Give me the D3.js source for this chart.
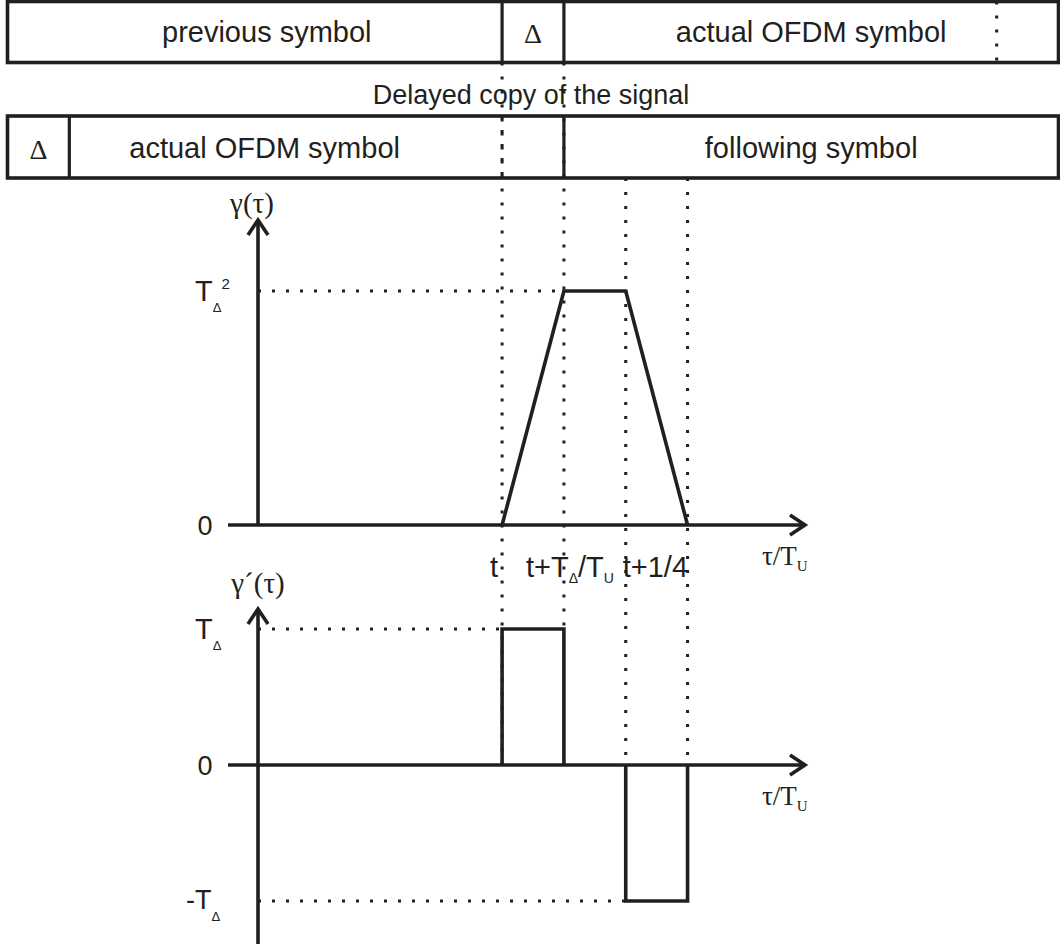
<!DOCTYPE html>
<html>
<head>
<meta charset="utf-8">
<script src="https://cdn.jsdelivr.net/npm/d3@7"></script>
<style>
  html, body { margin: 0; padding: 0; background: #fff; }
  svg { display: block; }
</style>
</head>
<body>
<svg id="chart" width="1060" height="947"></svg>
<script>
// ---- data (time axis in units of the guard interval TΔ) ----
const topRow = [
  { label: "previous symbol",    from: -8, to: 0, font: "sans" },
  { label: "Δ",                  from: 0,  to: 1, font: "serif" },
  { label: "actual OFDM symbol", from: 1,  to: 9, font: "sans" }
];
const topRowMarks = [8];

const bottomRow = [
  { label: "Δ",                  from: -8, to: -7, font: "serif" },
  { label: "actual OFDM symbol", from: -7, to: 1,  font: "sans" },
  { label: "following symbol",   from: 1,  to: 9,  font: "sans" }
];
const bottomRowMarks = [0];

// correlation γ(τ), value in units of TΔ²
const gammaPoints = [
  { t: 0, v: 0 },
  { t: 1, v: 1 },
  { t: 2, v: 1 },
  { t: 3, v: 0 }
];

// derivative γ´(τ), value in units of TΔ
const derivPulses = [
  { from: 0, to: 1, v: 1 },
  { from: 2, to: 3, v: -1 }
];

const tickLabels = ["t", "t+T|Δ|/T|U", "t+1/4"];
const tickPositions = [0, 1, 2];

// ---- layout ----
const INK = "#231f20";
const SANS = "'Liberation Sans', Arial, Helvetica, sans-serif";
const SERIF = "'Liberation Serif', 'Times New Roman', serif";

const svg = d3.select("#chart");
const x = d3.scaleLinear().domain([-8, 9]).range([7.5, 1058.5]);
const yUp = d3.scaleLinear().domain([0, 1]).range([525, 291]);
const yLo = d3.scaleLinear().domain([-1, 1]).range([901, 629]);

const AX_X = 258, AX_START = 228, AX_END = 805;

// dotted helper
function dotted(x1, y1, x2, y2) {
  svg.append("line")
    .attr("x1", x1).attr("y1", y1).attr("x2", x2).attr("y2", y2)
    .attr("stroke", INK).attr("stroke-width", 3)
    .attr("stroke-dasharray", "3 11");
}

// ---- symbol rows ----
// horizontal nudge (px) of each row's labels relative to the segment centre
function drawRow(row, marks, y0, y1, baseline, nudge) {
  const g = svg.append("g");
  const lo = d3.min(row, d => d.from), hi = d3.max(row, d => d.to);
  marks.forEach(m => dotted(x(m), y0, x(m), y1));
  g.append("rect")
    .attr("x", x(lo)).attr("y", y0)
    .attr("width", x(hi) - x(lo)).attr("height", y1 - y0)
    .attr("fill", "none").attr("stroke", INK).attr("stroke-width", 3.6);
  row.slice(1).forEach(s => {
    g.append("line")
      .attr("x1", x(s.from)).attr("x2", x(s.from))
      .attr("y1", y0).attr("y2", y1)
      .attr("stroke", INK).attr("stroke-width", 3.2);
  });
  row.forEach((s, i) => {
    g.append("text")
      .attr("x", (x(s.from) + x(s.to)) / 2 + nudge[i])
      .attr("y", baseline + (s.font === "serif" ? 1 : 0))
      .attr("text-anchor", "middle")
      .attr("font-family", s.font === "serif" ? SERIF : SANS)
      .attr("font-size", s.font === "serif" ? 28 : 29)
      .attr("fill", INK)
      .text(s.label);
  });
}

// vertical guide lines
dotted(x(0), 62.5, x(0), yLo(0));
dotted(x(1), 62.5, x(1), yLo(1));
dotted(x(2), 178, x(2), yLo(0));
dotted(x(3), 178, x(3), yLo(0));

drawRow(topRow, topRowMarks, 1.5, 62.5, 42, [12, 0, 0]);
drawRow(bottomRow, bottomRowMarks, 116, 178, 158, [0, -52, 0]);

svg.append("text")
  .attr("x", 531).attr("y", 104)
  .attr("text-anchor", "middle")
  .attr("font-family", SANS).attr("font-size", 27).attr("fill", INK)
  .text("Delayed copy of the signal");

// ---- axes ----
function hAxis(y0) {
  svg.append("line").attr("x1", AX_START).attr("x2", AX_END - 1)
    .attr("y1", y0).attr("y2", y0)
    .attr("stroke", INK).attr("stroke-width", 3.6);
  svg.append("path")
    .attr("d", `M${AX_END - 15},${y0 - 10} L${AX_END},${y0} L${AX_END - 15},${y0 + 10}`)
    .attr("fill", "none").attr("stroke", INK).attr("stroke-width", 3.6);
}
function vAxis(yBottom, yTip) {
  svg.append("line").attr("x1", AX_X).attr("x2", AX_X)
    .attr("y1", yBottom).attr("y2", yTip + 1)
    .attr("stroke", INK).attr("stroke-width", 3.6);
  svg.append("path")
    .attr("d", `M${AX_X - 10},${yTip + 15} L${AX_X},${yTip} L${AX_X + 10},${yTip + 15}`)
    .attr("fill", "none").attr("stroke", INK).attr("stroke-width", 3.6);
}

// level guides
dotted(AX_X, yUp(1), x(1), yUp(1));
dotted(AX_X, yLo(1), x(0), yLo(1));
dotted(AX_X, yLo(-1), x(2), yLo(-1));

hAxis(yUp(0));
vAxis(yUp(0), 220);
hAxis(yLo(0));
vAxis(944, 609);

// ---- curves ----
const line = d3.line().x(d => x(d.t)).y(d => yUp(d.v));
svg.append("path")
  .datum(gammaPoints)
  .attr("d", line)
  .attr("fill", "none").attr("stroke", INK).attr("stroke-width", 3.6)
  .attr("stroke-linejoin", "miter");

svg.selectAll("path.pulse")
  .data(derivPulses)
  .enter().append("path")
  .attr("class", "pulse")
  .attr("d", d => d3.line()([
    [x(d.from), yLo(0)], [x(d.from), yLo(d.v)],
    [x(d.to), yLo(d.v)], [x(d.to), yLo(0)]
  ]))
  .attr("fill", "none").attr("stroke", INK).attr("stroke-width", 3.6);

// ---- text helpers ----
function richText(xp, yp, parts, anchor, family, size) {
  const t = svg.append("text")
    .attr("x", xp).attr("y", yp)
    .attr("text-anchor", anchor)
    .attr("font-family", family).attr("font-size", size)
    .attr("fill", INK);
  let shift = 0;
  parts.forEach(p => {
    const ts = t.append("tspan").text(p.s);
    const target = p.dy || 0;
    if (target !== shift) { ts.attr("dy", target - shift); shift = target; }
    if (p.size) ts.attr("font-size", p.size);
    if (p.family) ts.attr("font-family", p.family);
  });
  return t;
}

// tick labels below the upper time axis
const tickAnchor = ["end", "middle", "start"];
const tickOffset = [-4, 6, -3];
tickLabels.forEach((lab, i) => {
  const parts = lab.split("|").map((s, k) => (k % 2 === 1)
    ? { s, dy: 6, size: 14 } : { s, dy: 0 });
  richText(x(tickPositions[i]) + tickOffset[i], 577, parts, tickAnchor[i], SANS, 29);
});

// axis titles
[yUp(0), yLo(0)].forEach(y0 => {
  richText(762, y0 + 40, [{ s: "τ/T" }, { s: "U", dy: 6, size: 15 }], "start", SERIF, 27);
  richText(205, y0 + 10, [{ s: "0" }], "middle", SANS, 27);
});
richText(252, 213, [{ s: "γ(τ)" }], "middle", SERIF, 29);
richText(258, 593, [{ s: "γ´(τ)" }], "middle", SERIF, 29);

// value labels
richText(195, yUp(1) + 10, [{ s: "T" }, { s: "Δ", dy: 11, size: 13 }, { s: "2", dy: -12, size: 15 }], "start", SANS, 29);
richText(195, yLo(1) + 10, [{ s: "T" }, { s: "Δ", dy: 11, size: 13 }], "start", SANS, 29);
richText(186, yLo(-1) + 8, [{ s: "-T" }, { s: "Δ", dy: 12, size: 13 }], "start", SANS, 27);
</script>
</body>
</html>
